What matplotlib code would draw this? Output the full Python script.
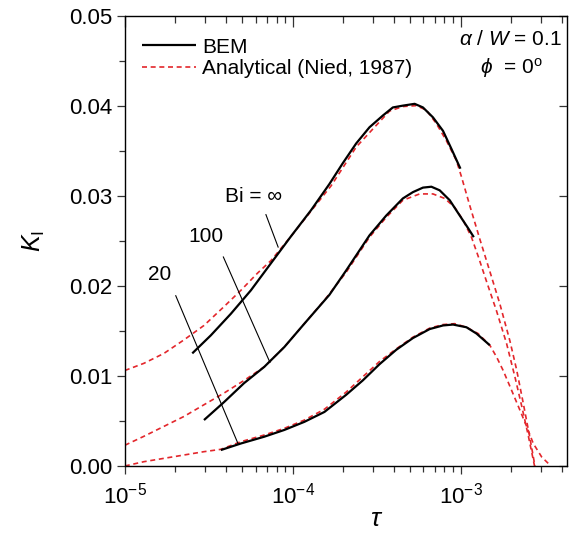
# K_I vs tau, BEM vs analytical (Nied 1987)
import matplotlib
matplotlib.use("Agg")
import matplotlib.pyplot as plt
from matplotlib.ticker import LogLocator, MultipleLocator, NullFormatter, FormatStrFormatter

plt.rcParams['font.family'] = ['Liberation Sans', 'DejaVu Sans']
plt.rcParams['mathtext.fontset'] = 'custom'
plt.rcParams['mathtext.rm'] = 'Liberation Sans'
plt.rcParams['mathtext.it'] = 'Liberation Sans:italic'

# analytical curves (red dashed)
tau_an_inf = [1.00e-5, 1.30e-5, 1.71e-5, 2.25e-5, 2.96e-5, 3.90e-5, 4.91e-5, 6.16e-5, 7.41e-5,
              9.76e-5, 1.285e-4, 1.691e-4, 2.384e-4, 2.995e-4, 3.768e-4, 4.524e-4, 5.439e-4,
              6.240e-4, 7.160e-4, 8.216e-4, 9.426e-4, 1.010e-3, 1.132e-3, 1.298e-3, 1.490e-3,
              1.709e-3, 1.961e-3, 2.150e-3, 2.354e-3, 2.582e-3, 2.766e-3]
k_an_inf = [0.0106, 0.0114, 0.0125, 0.0140, 0.0156, 0.0177, 0.0195, 0.0214, 0.0228,
            0.0255, 0.0283, 0.0311, 0.0354, 0.0374, 0.0394, 0.0399, 0.0400,
            0.0395, 0.0380, 0.0361, 0.0339, 0.0321, 0.0289, 0.0252, 0.0216,
            0.0180, 0.0139, 0.0107, 0.0070, 0.0031, 0.0]

tau_an_100 = [1.00e-5, 1.30e-5, 1.71e-5, 2.25e-5, 2.96e-5, 3.90e-5, 5.13e-5, 6.76e-5, 8.90e-5,
              1.172e-4, 1.543e-4, 2.078e-4, 2.862e-4, 3.601e-4, 4.524e-4, 5.692e-4, 6.832e-4,
              8.027e-4, 9.209e-4, 1.032e-3, 1.158e-3, 1.269e-3, 1.423e-3, 1.634e-3, 1.874e-3,
              2.101e-3, 2.303e-3, 2.522e-3, 2.75e-3]
k_an_100 = [0.0023, 0.0033, 0.0044, 0.0055, 0.0068, 0.0081, 0.0095, 0.0110, 0.0132,
            0.0158, 0.0184, 0.0215, 0.0254, 0.0276, 0.0295, 0.0302, 0.0302,
            0.0297, 0.0287, 0.0273, 0.0254, 0.0233, 0.0205, 0.0172, 0.0136,
            0.0099, 0.0067, 0.0034, 0.0]

tau_an_20 = [1.00e-5, 1.30e-5, 1.71e-5, 2.25e-5, 2.96e-5, 3.73e-5, 4.91e-5, 6.76e-5, 8.90e-5,
             1.172e-4, 1.543e-4, 2.078e-4, 2.611e-4, 3.284e-4, 4.131e-4, 5.191e-4, 6.530e-4,
             7.841e-4, 9.209e-4, 1.081e-3, 1.269e-3, 1.490e-3, 1.634e-3, 1.789e-3, 2.008e-3,
             2.250e-3, 2.467e-3, 2.702e-3, 3.033e-3, 3.399e-3]
k_an_20 = [0.0, 0.00048, 0.00085, 0.00122, 0.00159, 0.00185, 0.0027, 0.00344, 0.00418,
           0.0051, 0.0063, 0.0082, 0.0099, 0.0116, 0.0130, 0.0143, 0.0153,
           0.0157, 0.0158, 0.0154, 0.0147, 0.0134, 0.0121, 0.0106, 0.0084,
           0.0062, 0.0044, 0.0025, 0.0010, 0.0001]

# BEM curves (black solid)
tau_bem_inf = [2.52e-5, 3.25e-5, 4.28e-5, 5.63e-5, 7.41e-5, 9.76e-5, 1.285e-4, 1.652e-4,
               1.983e-4, 2.384e-4, 2.862e-4, 3.437e-4, 3.942e-4, 4.524e-4, 5.314e-4,
               5.956e-4, 6.832e-4, 7.841e-4, 8.801e-4, 9.958e-4]
k_bem_inf = [0.0125, 0.0145, 0.0169, 0.0195, 0.0225, 0.0255, 0.0284, 0.0313,
             0.0336, 0.0358, 0.0376, 0.0389, 0.0398, 0.0400, 0.0402,
             0.0398, 0.0387, 0.0372, 0.0352, 0.0330]

tau_bem_100 = [2.96e-5, 3.90e-5, 5.13e-5, 6.76e-5, 8.90e-5, 1.172e-4, 1.652e-4, 2.078e-4,
               2.862e-4, 3.601e-4, 4.524e-4, 5.191e-4, 5.956e-4, 6.684e-4, 7.492e-4,
               8.597e-4, 9.863e-4, 1.106e-3, 1.196e-3]
k_bem_100 = [0.0051, 0.0071, 0.0092, 0.0110, 0.0132, 0.0158, 0.0190, 0.0217,
             0.0256, 0.0278, 0.0297, 0.0304, 0.0309, 0.0310, 0.0306,
             0.0295, 0.0278, 0.0264, 0.0254]

tau_bem_20 = [3.73e-5, 4.91e-5, 6.76e-5, 8.90e-5, 1.172e-4, 1.543e-4, 2.078e-4, 2.611e-4,
              3.284e-4, 4.131e-4, 5.191e-4, 6.530e-4, 7.841e-4, 8.995e-4, 1.081e-3,
              1.241e-3, 1.490e-3]
k_bem_20 = [0.00177, 0.0025, 0.00325, 0.0040, 0.0049, 0.0060, 0.0079, 0.0095,
            0.0113, 0.0129, 0.0142, 0.0152, 0.0156, 0.0157, 0.0154,
            0.0147, 0.0134]

red = '#e3262b'
dash = (0, (3, 2.2))

fig = plt.figure(figsize=(5.7, 5.36), dpi=100)
ax = fig.add_axes([0.219, 0.1306, 0.776, 0.8404])

bem_kw = dict(color='k', lw=1.6, zorder=3, solid_joinstyle='round', solid_capstyle='butt')
an_kw = dict(color=red, lw=1.2, ls=dash, zorder=2)
ax.plot(tau_bem_inf, k_bem_inf, label='BEM', **bem_kw)
ax.plot(tau_an_inf, k_an_inf, label='Analytical (Nied, 1987)', **an_kw)
ax.plot(tau_bem_100, k_bem_100, **bem_kw)
ax.plot(tau_an_100, k_an_100, **an_kw)
ax.plot(tau_bem_20, k_bem_20, **bem_kw)
ax.plot(tau_an_20, k_an_20, **an_kw)

# pointer lines and Bi labels
ax.plot([6.92e-5, 8.18e-5], [0.0279, 0.0243], color='k', lw=0.8)
ax.plot([3.86e-5, 7.31e-5], [0.0232, 0.0115], color='k', lw=0.8)
ax.plot([2.01e-5, 4.73e-5], [0.0189, 0.00244], color='k', lw=0.8)
ax.text(5.81e-5, 0.0299, 'Bi = \u221e', fontsize=15, ha='center', va='center')
ax.text(3.05e-5, 0.0255, '100', fontsize=15, ha='center', va='center')
ax.text(1.62e-5, 0.0213, '20', fontsize=15, ha='center', va='center')

ax.text(0.989, 0.946, r'$\alpha$ / $W$ = 0.1', transform=ax.transAxes,
        fontsize=15, ha='right', va='center')
ax.text(0.873, 0.883, r'$\phi$  = 0$^{\mathrm{o}}$', transform=ax.transAxes,
        fontsize=15, ha='center', va='center')

ax.set_xscale('log')
ax.set_xlim(1e-5, 4.3e-3)
ax.set_ylim(0, 0.05)
ax.yaxis.set_major_locator(MultipleLocator(0.01))
ax.yaxis.set_minor_locator(MultipleLocator(0.005))
ax.yaxis.set_major_formatter(FormatStrFormatter('%.2f'))
ax.xaxis.set_major_locator(LogLocator(base=10))
ax.xaxis.set_minor_locator(LogLocator(base=10, subs=range(2, 10)))
ax.xaxis.set_minor_formatter(NullFormatter())

ax.tick_params(which='both', direction='out', labelsize=16, width=0.9, color='#333333')
ax.tick_params(which='major', length=6)
ax.tick_params(which='minor', length=4)
ax.tick_params(axis='y', pad=3)
ax.tick_params(axis='x', pad=6)
for s in ax.spines.values():
    s.set_linewidth(0.9)
    s.set_color('#333333')

# mirrored ticks on top and right, pointing inward
axt = ax.twiny()
axt.set_xscale('log')
axt.set_xlim(ax.get_xlim())
axt.xaxis.set_minor_locator(LogLocator(base=10, subs=range(2, 10)))
axt.tick_params(which='both', direction='in', labeltop=False, width=0.9, color='#333333')
axt.tick_params(which='major', length=8)
axt.tick_params(which='minor', length=5)
axr = ax.twinx()
axr.set_ylim(ax.get_ylim())
axr.yaxis.set_major_locator(MultipleLocator(0.01))
axr.tick_params(direction='in', labelright=False, length=6, width=0.9, color='#333333')

ax.set_xlabel(r'$\tau$', fontsize=19)
ax.xaxis.set_label_coords(0.569, -0.09)
ax.set_ylabel(r'$K_{\mathrm{I}}$', fontsize=18)
ax.yaxis.set_label_coords(-0.175, 0.5)

ax.legend(loc='upper left', bbox_to_anchor=(0.0385, 0.951), frameon=False,
          fontsize=15, handlelength=2.6, handletextpad=0.3, labelspacing=0.12,
          borderpad=0, borderaxespad=0)

fig.savefig('out.png', dpi=100)
